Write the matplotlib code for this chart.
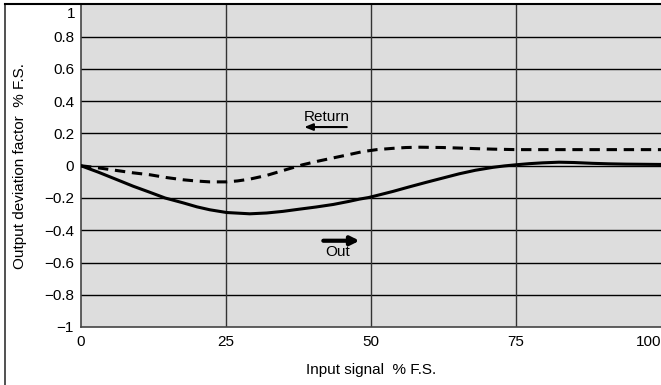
import matplotlib
matplotlib.use("Agg")
import matplotlib.pyplot as plt
from matplotlib.lines import Line2D

plt.rcParams['font.family'] = ['Liberation Sans', 'DejaVu Sans']

# Data
out_x = [0, 3, 6.25, 9, 11.9, 14.5, 17.6, 20, 22.2, 25.1, 29.1, 32, 34.8, 37.5, 40.5, 43.5, 46.2, 48, 49.6, 51.5, 53.8, 56.5, 59.5, 62.4, 65.2, 68, 71, 73, 75, 77.3, 79.6, 82.4, 85, 88.2, 91, 93.9, 97, 100]
out_y = [0, -0.04, -0.087, -0.127, -0.165, -0.2, -0.23, -0.255, -0.273, -0.29, -0.298, -0.293, -0.283, -0.27, -0.256, -0.24, -0.221, -0.207, -0.197, -0.18, -0.159, -0.132, -0.103, -0.076, -0.05, -0.028, -0.01, -0.001, 0.006, 0.013, 0.018, 0.022, 0.02, 0.015, 0.012, 0.01, 0.009, 0.008]
ret_x = [0, 3, 6.25, 9, 11.9, 14.7, 17.6, 20, 22.2, 25.1, 27, 29.1, 32, 34.8, 38.2, 40.8, 43.4, 46.3, 48.6, 51, 53.8, 56, 58.4, 62.4, 65, 68.2, 71, 75, 82.4, 90, 100]
ret_y = [0, -0.013, -0.03, -0.044, -0.056, -0.073, -0.087, -0.095, -0.1, -0.1, -0.094, -0.083, -0.06, -0.03, 0.006, 0.028, 0.048, 0.07, 0.088, 0.1, 0.108, 0.113, 0.115, 0.113, 0.11, 0.106, 0.103, 0.1, 0.1, 0.1, 0.1]
xticks = [0, 25, 50, 75, 100]
yticks = [-1, -0.8, -0.6, -0.4, -0.2, 0, 0.2, 0.4, 0.6, 0.8, 1]
ytick_labels = ['\u22121', '\u22120.8', '\u22120.6', '\u22120.4', '\u22120.2', '0', '0.2', '0.4', '0.6', '0.8', '1']

W, H = 661, 385
FS = 11
fig = plt.figure(figsize=(W/100, H/100), dpi=100)
ax = fig.add_axes([81/W, 1 - 327/H, (661-81)/W, (327-4.5)/H])
ax.set_facecolor('#dddddd')
ax.set_xlim(0, 100)
ax.set_ylim(-1, 1)

for yv in yticks[1:-1]:
    ax.axhline(yv, color='black', lw=1.0, zorder=1)
for xv in xticks[1:-1]:
    ax.axvline(xv, color='#333333', lw=1.0, zorder=1)

ax.plot(out_x, out_y, color='black', lw=2.2, solid_capstyle='round', solid_joinstyle='round', zorder=3)
ax.plot(ret_x, ret_y, color='black', lw=2.2, linestyle=(0, (3.4, 2.2)), zorder=3)

ax.set_xticks(xticks)
xl = ax.set_xticklabels([str(v) for v in xticks], fontsize=FS)
xl[-1].set_horizontalalignment('right')
ax.set_yticks(yticks)
# top label "1" is drawn shifted down inside the frame, as in the reference
ax.set_yticklabels(ytick_labels[:-1] + [''], fontsize=FS)
ax.annotate(ytick_labels[-1], xy=(0, yticks[-1]), xycoords=('axes fraction', 'data'),
            xytext=(-6, -10), textcoords='offset pixels', ha='right', va='center', fontsize=FS)
ax.tick_params(axis='x', length=0, pad=6)
ax.tick_params(axis='y', length=0, pad=5)

for s in ['top', 'right']:
    ax.spines[s].set_visible(False)
for s in ['left', 'bottom']:
    ax.spines[s].set_color('#444444')
    ax.spines[s].set_linewidth(1.2)

ax.set_xlabel('Input signal  % F.S.', fontsize=FS)
ax.xaxis.set_label_coords(0.5, -0.113)
ax.set_ylabel('Output deviation factor  % F.S.', fontsize=FS)
ax.yaxis.set_label_coords(-0.093, 0.5)

ax.text(42.3, 0.30, 'Return', ha='center', va='center', fontsize=FS)
ax.annotate('', xy=(38.0, 0.24), xytext=(46.3, 0.24),
            arrowprops=dict(arrowstyle='-|>,head_length=0.5,head_width=0.2', color='black', lw=1.5))
ax.text(44.2, -0.535, 'Out', ha='center', va='center', fontsize=FS)
ax.annotate('', xy=(48.5, -0.465), xytext=(41.3, -0.465),
            arrowprops=dict(arrowstyle='-|>,head_length=0.5,head_width=0.25', color='black', lw=3))

# figure border lines (left and top)
fig.add_artist(Line2D([5/W, 5/W], [0, 1 - 4/H], color='#333333', lw=1.2, transform=fig.transFigure))
fig.add_artist(Line2D([5/W, 1], [1 - 4/H, 1 - 4/H], color='black', lw=1.5, transform=fig.transFigure))

fig.savefig('out.png', dpi=100)
